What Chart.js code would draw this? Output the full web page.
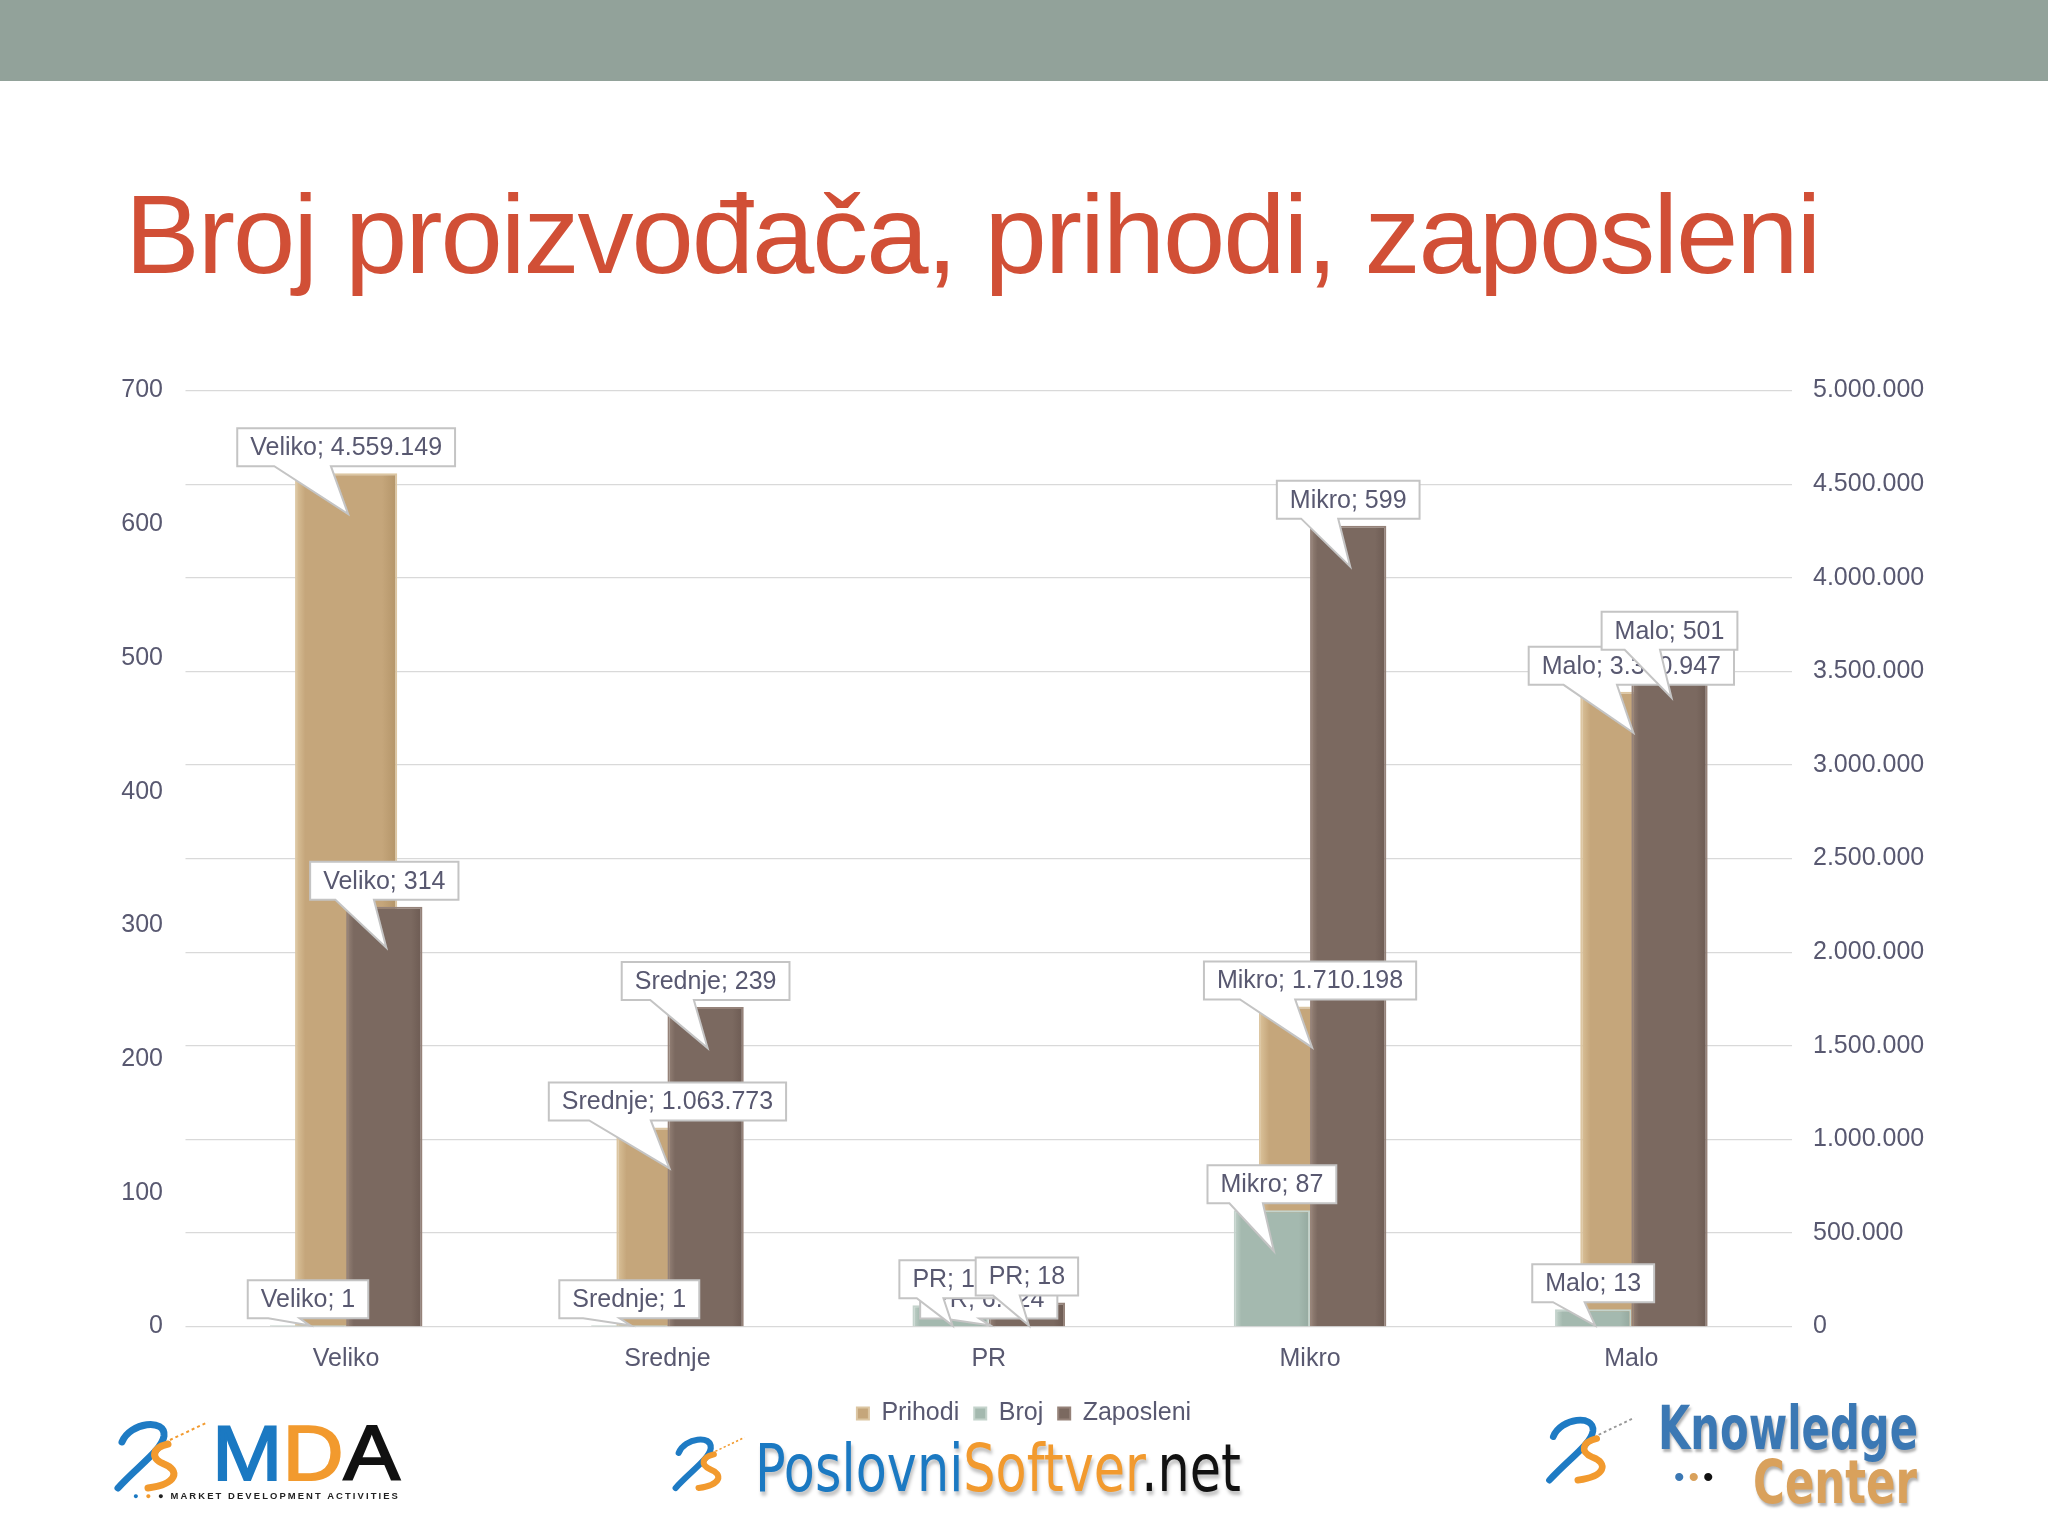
<!DOCTYPE html>
<html><head><meta charset="utf-8">
<script src="https://cdn.jsdelivr.net/npm/chart.js@4.4.1/dist/chart.umd.min.js"></script>
<style>
html,body{margin:0;padding:0;background:#fff;width:2048px;height:1536px;overflow:hidden;font-family:"Liberation Sans",Arial,sans-serif;}
#hdr{position:absolute;left:0;top:0;width:2048px;height:81px;background:#92a29a;}
#title{position:absolute;left:125px;top:179px;font-size:112px;line-height:112px;letter-spacing:-2.05px;color:#d14f36;white-space:nowrap;}
#wrap{position:absolute;left:0;top:300px;width:2048px;height:1236px;}
.fit{position:absolute;white-space:nowrap;transform-origin:0 0;line-height:1;}
.sw{position:absolute;}
</style></head>
<body>
<div id="hdr"></div>
<div id="title">Broj proizvođača, prihodi, zaposleni</div>
<div id="wrap"><canvas id="c"></canvas></div>

<!-- MDA logo -->
<svg class="sw" style="left:108px;top:1414px" width="110" height="80" viewBox="0 0 110 80">
 <path d="M14 28 C 22 8, 58 4, 56 22 C 54 36, 30 52, 10 74" fill="none" stroke="#1e7bc4" stroke-width="7" stroke-linecap="round"/>
 <path d="M60 30 C 44 34, 42 44, 56 50 C 72 56, 70 70, 40 74" fill="none" stroke="#f29a2e" stroke-width="7" stroke-linecap="round"/>
 <path d="M62 26 L 100 8" stroke="#f29a2e" stroke-width="2" stroke-dasharray="3 3"/>
</svg>
<div class="fit" id="mda" data-w="188" style="left:212px;top:1414px;font-size:78px;"><span style="color:#1b79c2;-webkit-text-stroke:2px #1b79c2">M</span><span style="color:#f29a2e;-webkit-text-stroke:2px #f29a2e">D</span><span style="color:#111;-webkit-text-stroke:2px #111">A</span></div>
<div class="fit" id="mdasub" data-w="267" style="left:133px;top:1492px;font-size:9px;font-weight:bold;letter-spacing:2px;color:#222"><span style="color:#1b79c2">●</span> <span style="color:#f29a2e">●</span> ● MARKET DEVELOPMENT ACTIVITIES</div>

<!-- PoslovniSoftver logo -->
<svg class="sw" style="left:668px;top:1428px" width="84" height="68" viewBox="0 0 110 80">
 <path d="M14 28 C 22 8, 58 4, 56 22 C 54 36, 30 52, 10 74" fill="none" stroke="#1e7bc4" stroke-width="8" stroke-linecap="round"/>
 <path d="M60 30 C 44 34, 42 44, 56 50 C 72 56, 70 70, 40 74" fill="none" stroke="#f29a2e" stroke-width="8" stroke-linecap="round"/>
 <path d="M62 26 L 100 8" stroke="#f29a2e" stroke-width="2" stroke-dasharray="3 3"/>
</svg>
<div class="fit" id="ps" data-w="486" style="left:755px;top:1436px;font-size:66px;font-family:'DejaVu Sans',sans-serif;text-shadow:2px 4px 4px rgba(0,0,0,0.25)"><span style="color:#1b79c2">Poslovni</span><span style="color:#f29a2e">Softver</span><span style="color:#111">.net</span></div>

<!-- Knowledge Center logo -->
<svg class="sw" style="left:1540px;top:1406px" width="104" height="84" viewBox="0 0 110 80">
 <path d="M14 28 C 22 8, 58 4, 56 22 C 54 36, 30 52, 10 74" fill="none" stroke="#1e7bc4" stroke-width="7" stroke-linecap="round"/>
 <path d="M60 30 C 44 34, 42 44, 56 50 C 72 56, 70 70, 40 74" fill="none" stroke="#f29a2e" stroke-width="7" stroke-linecap="round"/>
 <path d="M62 26 L 100 8" stroke="#999" stroke-width="2" stroke-dasharray="3 3"/>
</svg>
<div class="fit" id="kn" data-w="260" style="left:1658px;top:1398px;font-size:60px;font-weight:bold;font-family:'DejaVu Sans',sans-serif;color:#3b78b4;text-shadow:2px 3px 3px rgba(0,0,0,0.3)">Knowledge</div>
<div class="fit" id="ce" data-w="164" style="left:1753px;top:1452px;font-size:60px;font-weight:bold;font-family:'DejaVu Sans',sans-serif;color:#d9a15c;text-shadow:2px 3px 3px rgba(0,0,0,0.3)">Center</div>
<div class="fit" id="dots" style="left:1674px;top:1462px;font-size:30px;letter-spacing:4px;"><span style="color:#3b78b4">•</span><span style="color:#d9a15c">•</span><span style="color:#111">•</span></div>

<script>
const categories = ['Veliko', 'Srednje', 'PR', 'Mikro', 'Malo'];
const prihodi = [4559149, 1063773, 6324, 1710198, 3390947];
const broj = [1, 1, 16, 87, 13];
const zaposleni = [314, 239, 18, 599, 501];
const leftTickValues = [0, 100, 200, 300, 400, 500, 600, 700];
const rightTickValues = [0, 500000, 1000000, 1500000, 2000000, 2500000, 3000000, 3500000, 4000000, 4500000, 5000000];

const TEXT = '#585870';
const FONT = '"Liberation Sans", Arial, sans-serif';
function fmt(v) { return String(v).replace(/\B(?=(\d{3})+(?!\d))/g, '.'); }

// light / mid / dark shades per dataset for a bevelled column look
const SHADES = [
  ['#dcc49c', '#c5a67b', '#b39468'],
  ['#c4d4cc', '#a4b9af', '#94a89e'],
  ['#978479', '#7b6960', '#6c5a52']
];

const bevel = {
  id: 'bevel',
  beforeDatasetsDraw(chart) {
    const ctx = chart.ctx;
    chart.data.datasets.forEach((ds, di) => {
      const meta = chart.getDatasetMeta(di);
      const s = SHADES[di];
      meta.data.forEach(el => {
        const p = el.getProps(['x', 'width'], true);
        const l = p.x - p.width / 2, r = p.x + p.width / 2;
        const g = ctx.createLinearGradient(l, 0, r, 0);
        g.addColorStop(0, s[0]);
        g.addColorStop(0.1, s[1]);
        g.addColorStop(0.85, s[1]);
        g.addColorStop(1, s[2]);
        el.options = Object.assign({}, el.options, { backgroundColor: g });
      });
    });
  }
};

const callouts = {
  id: 'callouts',
  afterDatasetsDraw(chart) {
    const ctx = chart.ctx;
    const zeroY = chart.scales.y.getPixelForValue(0);
    ctx.save();
    ctx.font = '25px ' + FONT;
    ctx.textAlign = 'center';
    ctx.textBaseline = 'middle';
    ctx.lineWidth = 2;
    ctx.strokeStyle = '#c4c4c4';
    chart.data.datasets.forEach((ds, di) => {
      const meta = chart.getDatasetMeta(di);
      meta.data.forEach((bar, i) => {
        const p = bar.getProps(['x', 'y'], true);
        const text = chart.data.labels[i] + '; ' + fmt(ds.data[i]);
        const w = ctx.measureText(text).width + 26;
        const h = 38;
        const cx = p.x;
        const bottom = p.y - 7;
        const top = bottom - h;
        const left = cx - w / 2, right = cx + w / 2;
        const tipY = Math.min(p.y + 41, zeroY - 1);
        const tipX = cx + 2;
        const b1 = cx - 0.33 * w, b2 = cx - 0.07 * w;
        ctx.beginPath();
        ctx.moveTo(left, top);
        ctx.lineTo(right, top);
        ctx.lineTo(right, bottom);
        ctx.lineTo(b2, bottom);
        ctx.lineTo(tipX, tipY);
        ctx.lineTo(b1, bottom);
        ctx.lineTo(left, bottom);
        ctx.closePath();
        ctx.fillStyle = '#ffffff';
        ctx.fill();
        ctx.stroke();
        ctx.fillStyle = TEXT;
        ctx.fillText(text, cx, top + h / 2 + 1);
      });
    });
    ctx.restore();
  }
};

const tickFont = { family: FONT, size: 25 };

new Chart(document.getElementById('c'), {
  type: 'bar',
  data: {
    labels: categories,
    datasets: [
      { label: 'Prihodi', data: prihodi, yAxisID: 'y1', order: 2, grouped: false,
        categoryPercentage: 1, barPercentage: 0.318,
        backgroundColor: '#c5a67b', borderColor: '#dcc6a2', borderWidth: 2 },
      { label: 'Broj', data: broj, yAxisID: 'y', order: 1,
        backgroundColor: '#a4b9af', borderColor: '#c4d3cc', borderWidth: 2 },
      { label: 'Zaposleni', data: zaposleni, yAxisID: 'y', order: 1,
        backgroundColor: '#7b6960', borderColor: '#958279', borderWidth: 2 }
    ]
  },
  options: {
    responsive: true,
    maintainAspectRatio: false,
    animation: false,
    devicePixelRatio: 1,
    datasets: { bar: { categoryPercentage: 0.475, barPercentage: 1 } },
    layout: { padding: { top: 90.6, bottom: 99.9, left: 0, right: 0 } },
    plugins: {
      tooltip: { enabled: false },
      legend: {
        position: 'bottom',
        labels: {
          boxWidth: 12, boxHeight: 12, padding: 15, color: TEXT, font: tickFont,
          sort: (a, b) => a.datasetIndex - b.datasetIndex
        }
      }
    },
    scales: {
      x: {
        grid: { display: false, drawTicks: false },
        border: { display: false },
        ticks: { color: TEXT, font: tickFont, padding: 18 },
        afterFit: s => { s.height = 59.5; }
      },
      y: {
        position: 'left',
        min: leftTickValues[0], max: leftTickValues[leftTickValues.length - 1],
        ticks: { stepSize: leftTickValues[1] - leftTickValues[0], color: TEXT, font: tickFont, padding: 22.5 },
        grid: { display: false, drawTicks: false },
        border: { display: false },
        afterFit: s => { s.width = 185.5; }
      },
      y1: {
        position: 'right',
        min: rightTickValues[0], max: rightTickValues[rightTickValues.length - 1],
        ticks: { stepSize: rightTickValues[1] - rightTickValues[0], color: TEXT, font: tickFont, padding: 21,
          callback: v => fmt(v) },
        grid: { color: '#d9d9d9', lineWidth: 1.3, drawTicks: false },
        border: { display: false },
        afterFit: s => { s.width = 256; }
      }
    }
  },
  plugins: [bevel, callouts]
});

document.querySelectorAll('.fit[data-w]').forEach(el => {
  const r = el.getBoundingClientRect().width;
  const w = parseFloat(el.dataset.w);
  el.style.transform = 'scaleX(' + (w / r) + ')';
});
</script>
</body></html>
